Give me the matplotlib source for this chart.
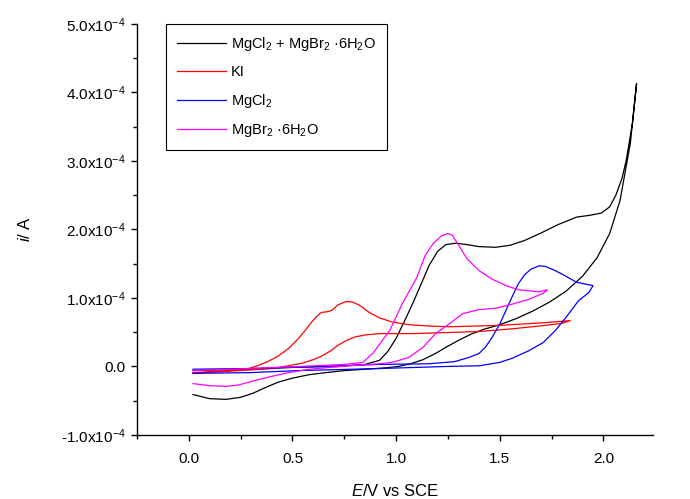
import matplotlib
matplotlib.use("Agg")
import matplotlib.pyplot as plt
from matplotlib.ticker import MultipleLocator, FuncFormatter

plt.rcParams['font.family'] = ['Liberation Sans', 'DejaVu Sans']
plt.rcParams['mathtext.fontset'] = 'custom'
plt.rcParams['mathtext.rm'] = 'Liberation Sans'
plt.rcParams['mathtext.it'] = 'Liberation Sans:italic'

# potencjal E (V) i prad i (1e-4 A)
# MgCl2 + MgBr2.6H2O
e_mix = [0.02, 0.29, 0.53, 0.72, 0.85, 0.92, 0.96, 1.00, 1.04, 1.08, 1.12, 1.16,
         1.20, 1.24, 1.29, 1.34, 1.40, 1.48, 1.55, 1.62, 1.70, 1.78, 1.87, 1.94,
         1.99, 2.03, 2.06, 2.09, 2.11, 2.14, 2.16,
         2.13, 2.08, 2.03, 1.97, 1.90, 1.82, 1.74, 1.66, 1.58, 1.50, 1.42, 1.36,
         1.30, 1.24, 1.19, 1.13, 1.07, 1.01, 0.95, 0.85, 0.75, 0.66, 0.58, 0.50,
         0.43, 0.36, 0.31, 0.25, 0.18, 0.10, 0.02]
i_mix = [-0.06, -0.04, -0.01, 0.0, 0.03, 0.09, 0.22, 0.41, 0.66, 0.92, 1.20, 1.48,
         1.68, 1.78, 1.80, 1.78, 1.75, 1.74, 1.77, 1.84, 1.95, 2.07, 2.18, 2.21,
         2.24, 2.33, 2.50, 2.75, 3.01, 3.55, 4.13,
         3.26, 2.42, 1.94, 1.59, 1.32, 1.10, 0.94, 0.81, 0.70, 0.61, 0.54, 0.47,
         0.38, 0.28, 0.19, 0.10, 0.04, 0.0, -0.02, -0.04, -0.06, -0.09, -0.12, -0.17,
         -0.23, -0.32, -0.39, -0.45, -0.48, -0.47, -0.41]

# KI
e_ki = [0.02, 0.19, 0.29, 0.33, 0.38, 0.43, 0.48, 0.52, 0.56, 0.59, 0.62, 0.64,
        0.67, 0.69, 0.72, 0.76, 0.79, 0.82, 0.87, 0.92, 0.98, 1.06, 1.16, 1.26,
        1.50, 1.72, 1.84,
        1.80, 1.72, 1.56, 1.40, 1.08, 0.92, 0.85, 0.80, 0.76, 0.72, 0.68, 0.64,
        0.60, 0.55, 0.48, 0.40, 0.30, 0.02]
i_ki = [-0.09, -0.06, -0.03, 0.01, 0.07, 0.15, 0.26, 0.38, 0.52, 0.64, 0.74, 0.79,
        0.80, 0.82, 0.90, 0.95, 0.94, 0.90, 0.79, 0.71, 0.65, 0.61, 0.59, 0.58,
        0.60, 0.64, 0.67,
        0.63, 0.60, 0.55, 0.51, 0.48, 0.48, 0.46, 0.43, 0.38, 0.31, 0.22, 0.15,
        0.10, 0.05, 0.01, -0.03, -0.05, -0.10]

# MgCl2
e_mgcl = [0.02, 0.29, 0.53, 0.92, 1.16, 1.28, 1.35, 1.40, 1.43, 1.46, 1.50, 1.53,
          1.56, 1.59, 1.62, 1.65, 1.69, 1.72, 1.76, 1.80, 1.87, 1.95,
          1.93, 1.88, 1.82, 1.77, 1.71, 1.64, 1.56, 1.50, 1.40, 1.24, 0.92, 0.53,
          0.29, 0.02]
i_mgcl = [-0.04, -0.03, -0.01, 0.03, 0.04, 0.07, 0.13, 0.19, 0.28, 0.41, 0.62, 0.82,
          1.02, 1.21, 1.34, 1.42, 1.47, 1.46, 1.41, 1.35, 1.23, 1.18,
          1.08, 0.96, 0.72, 0.53, 0.35, 0.23, 0.12, 0.06, 0.01, 0.0, -0.03, -0.06,
          -0.09, -0.10]

# MgBr2.6H2O
e_mgbr = [0.02, 0.29, 0.53, 0.75, 0.84, 0.89, 0.97, 1.03, 1.10, 1.14, 1.18, 1.22,
          1.25, 1.27, 1.30, 1.34, 1.40, 1.46, 1.53, 1.59, 1.69, 1.73,
          1.71, 1.64, 1.56, 1.48, 1.40, 1.32, 1.26, 1.19, 1.13, 1.06, 0.98, 0.92,
          0.77, 0.58, 0.48, 0.42, 0.35, 0.30, 0.24, 0.18, 0.10, 0.02]
i_mgbr = [-0.06, -0.03, 0.0, 0.03, 0.06, 0.20, 0.53, 0.92, 1.30, 1.62, 1.80, 1.91,
          1.94, 1.92, 1.78, 1.58, 1.40, 1.28, 1.18, 1.12, 1.09, 1.12,
          1.07, 0.98, 0.91, 0.85, 0.83, 0.77, 0.63, 0.48, 0.28, 0.13, 0.06, 0.04,
          0.01, -0.04, -0.09, -0.13, -0.18, -0.22, -0.27, -0.29, -0.28, -0.25]

series = [
    (e_mix, i_mix, 'black', 'MgCl$_2$ + MgBr$_2$ ·6H$_2$O'),
    (e_ki, i_ki, 'red', 'KI'),
    (e_mgcl, i_mgcl, 'blue', 'MgCl$_2$'),
    (e_mgbr, i_mgbr, 'magenta', 'MgBr$_2$ ·6H$_2$O'),
]

fig = plt.figure(figsize=(6.9, 4.99), dpi=100)
ax = fig.add_axes([0.1986, 0.1283, 0.748, 0.8236])

for e, cur, col, lab in series:
    ax.plot(e, [c * 1e-4 for c in cur], color=col, lw=0.9, label=lab)

ax.set_xlim(-0.25, 2.24)
ax.set_ylim(-1e-4, 5e-4)
ax.spines['top'].set_visible(False)
ax.spines['right'].set_visible(False)
for s in ('left', 'bottom'):
    ax.spines[s].set_linewidth(1.0)

ax.xaxis.set_major_locator(MultipleLocator(0.5))
ax.xaxis.set_minor_locator(MultipleLocator(0.25))
ax.yaxis.set_major_locator(MultipleLocator(1e-4))
ax.yaxis.set_minor_locator(MultipleLocator(0.5e-4))


def y_fmt(v, pos):
    m = round(v / 1e-4, 1)
    if m == 0:
        return '0.0'
    return r'%.1fx10$^{-4}$' % m


ax.yaxis.set_major_formatter(FuncFormatter(y_fmt))
ax.xaxis.set_major_formatter(FuncFormatter(lambda v, p: '%.1f' % v))
ax.tick_params(which='major', direction='out', length=4.5, width=1.0, labelsize=11)
ax.tick_params(which='minor', direction='out', length=2.8, width=1.0)
ax.tick_params(axis='x', pad=8)

ax.set_xlabel('$\\mathit{E}$/V vs SCE', fontsize=12, labelpad=12)
ax.set_ylabel('$\\mathit{i}$/ A', fontsize=12, labelpad=20)

leg = ax.legend(loc='upper left', bbox_to_anchor=(0.056, 1.0), borderaxespad=0,
                fontsize=10.5, handlelength=3.4, labelspacing=0.85, fancybox=False,
                framealpha=1, edgecolor='black', borderpad=0.75, handletextpad=0.3)
leg.get_frame().set_linewidth(0.8)

fig.savefig('out.png', dpi=100)
